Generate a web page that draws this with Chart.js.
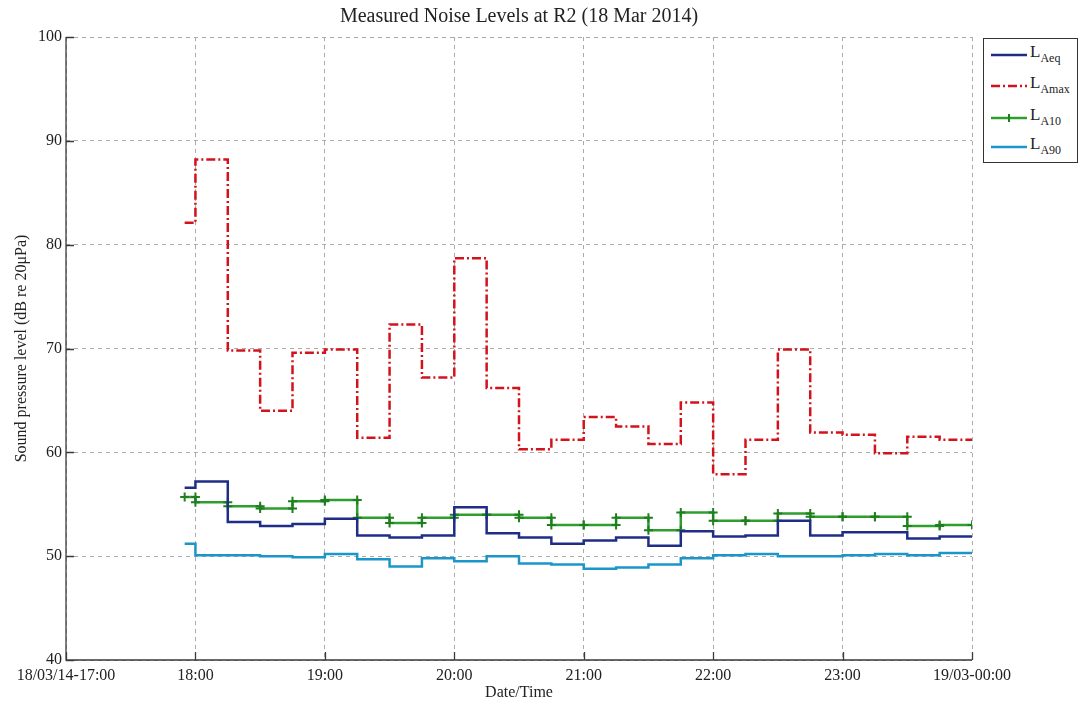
<!DOCTYPE html>
<html>
<head>
<meta charset="utf-8">
<script src="https://cdn.jsdelivr.net/npm/chart.js@4"></script>
<style>
  html, body { margin: 0; padding: 0; background: #fff; }
  #wrap { position: relative; width: 1083px; height: 706px; }
  #legend {
    position: absolute; left: 983px; top: 38px; width: 95px; height: 125px;
    border: 1px solid #333; background: #fff; box-sizing: border-box;
    font-family: "Liberation Serif", "Times New Roman", serif; color: #222;
  }
  #legend .row { position: absolute; left: 6px; height: 24px; display: flex; align-items: center; }
  #legend svg { width: 38px; height: 12px; margin-right: 2px; }
  #legend .txt { font-size: 17px; line-height: 17px; color: #222; }
  #legend sub { font-size: 12px; vertical-align: -5px; color: #222; }
</style>
</head>
<body>
<div id="wrap">
  <canvas id="myChart" width="1083" height="706"></canvas>
  <div id="legend"></div>
</div>
<script>
// sample times (start of each interval), last entry is end of record
const timeLabels = ['17:55', '18:00', '18:15', '18:30', '18:45', '19:00', '19:15', '19:30', '19:45',
    '20:00', '20:15', '20:30', '20:45', '21:00', '21:15', '21:30', '21:45', '22:00', '22:15',
    '22:30', '22:45', '23:00', '23:15', '23:30', '23:45', '00:00'];

const laeq = [56.6, 57.2, 53.3, 52.9, 53.1, 53.6, 52.0, 51.8, 52.0, 54.7, 52.2, 51.8, 51.2,
    51.5, 51.8, 51.0, 52.4, 51.9, 52.0, 53.4, 52.0, 52.3, 52.3, 51.7, 51.9];
const lamax = [82.1, 88.2, 69.8, 64.0, 69.6, 69.9, 61.4, 72.3, 67.2, 78.7, 66.2, 60.3, 61.2,
    63.4, 62.5, 60.8, 64.8, 57.9, 61.2, 69.9, 61.9, 61.7, 59.9, 61.5, 61.2];
const la10 = [55.7, 55.2, 54.8, 54.6, 55.3, 55.4, 53.7, 53.2, 53.7, 54.0, 54.0, 53.7, 53.0,
    53.0, 53.7, 52.5, 54.2, 53.4, 53.4, 54.1, 53.8, 53.8, 53.8, 52.9, 53.0];
const la90 = [51.2, 50.1, 50.1, 50.0, 49.9, 50.2, 49.7, 49.0, 49.8, 49.5, 50.0, 49.3, 49.2,
    48.8, 48.9, 49.2, 49.8, 50.1, 50.2, 50.0, 50.0, 50.1, 50.2, 50.1, 50.3];

const xTickLabels = ['18/03/14-17:00', '18:00', '19:00', '20:00', '21:00', '22:00', '23:00', '19/03-00:00'];
const yTicks = [40, 50, 60, 70, 80, 90, 100];

const serif = '"Liberation Serif", "Times New Roman", serif';

// minutes after 17:00
function toMin(s) {
    let h = parseInt(s.split(':')[0], 10);
    const m = parseInt(s.split(':')[1], 10);
    if (h < 17) h += 24;
    return (h - 17) * 60 + m;
}
const tmin = timeLabels.map(toMin);

// stairs vertices, like matlab stairs()
function stairs(vals) {
    const pts = [];
    vals.forEach(function (v, i) {
        pts.push({ x: tmin[i], y: v });
        pts.push({ x: tmin[i + 1], y: v });
    });
    return pts;
}

const series = [
    { name: 'Aeq', data: laeq, color: '#1f2d86', dash: [], marker: false },
    { name: 'Amax', data: lamax, color: '#d3131c', dash: [9, 3, 2, 3], marker: false },
    { name: 'A10', data: la10, color: '#2f9e2f', dash: [], marker: true },
    { name: 'A90', data: la90, color: '#1b96c9', dash: [], marker: false }
];

// solid left/bottom axes with inward ticks (box off look)
const axesLines = {
    id: 'axesLines',
    afterDatasetsDraw(chart) {
        const ctx = chart.ctx, a = chart.chartArea;
        const xs = chart.scales.x, ys = chart.scales.y;
        ctx.save();
        ctx.strokeStyle = '#3a3a3a';
        ctx.lineWidth = 1.3;
        ctx.setLineDash([]);
        ctx.beginPath();
        ctx.moveTo(a.left, a.top);
        ctx.lineTo(a.left, a.bottom);
        ctx.lineTo(a.right, a.bottom);
        xs.ticks.forEach(function (t) {
            const px = Math.round(xs.getPixelForValue(t.value)) + 0.5;
            ctx.moveTo(px, a.bottom);
            ctx.lineTo(px, a.bottom - 8);
        });
        ys.ticks.forEach(function (t) {
            const py = Math.round(ys.getPixelForValue(t.value)) + 0.5;
            ctx.moveTo(a.left, py);
            ctx.lineTo(a.left + 8, py);
        });
        ctx.stroke();
        ctx.restore();
    }
};

new Chart(document.getElementById('myChart'), {
    type: 'line',
    data: {
        datasets: series.map(function (s) {
            return {
                label: 'L' + s.name,
                data: stairs(s.data),
                borderColor: s.color,
                backgroundColor: s.color,
                borderWidth: 2.5,
                borderDash: s.dash,
                pointStyle: 'cross',
                pointRadius: s.marker ? 4.5 : 0,
                pointBorderColor: '#1f7f1f',
                pointBorderWidth: 2,
                tension: 0,
                fill: false
            };
        })
    },
    options: {
        responsive: false,
        animation: false,
        layout: { padding: { left: 0, right: 111, top: 0, bottom: 0 } },
        plugins: {
            legend: { display: false },
            tooltip: { enabled: false },
            title: {
                display: true,
                fullSize: false,
                text: 'Measured Noise Levels at R2 (18 Mar 2014)',
                color: '#222',
                font: { family: serif, size: 20, weight: 'normal' },
                padding: { top: 5, bottom: 8 }
            }
        },
        scales: {
            x: {
                type: 'linear',
                min: 0,
                max: 420,
                afterBuildTicks(scale) {
                    scale.ticks = xTickLabels.map(function (l, i) { return { value: i * 60 }; });
                },
                afterFit(scale) { scale.height = 46; },
                ticks: {
                    autoSkip: false,
                    maxRotation: 0,
                    padding: 6,
                    color: '#222',
                    font: { family: serif, size: 16 },
                    callback: function (v, i) { return xTickLabels[i]; }
                },
                grid: { color: '#ababab', lineWidth: 1, tickLength: 0, drawTicks: false },
                border: { display: false, dash: [4, 4] },
                title: {
                    display: true,
                    text: 'Date/Time',
                    color: '#222',
                    font: { family: serif, size: 16 },
                    padding: { top: 0, bottom: 4 }
                }
            },
            y: {
                min: 40,
                max: 100,
                afterBuildTicks(scale) {
                    scale.ticks = yTicks.map(function (v) { return { value: v }; });
                },
                afterFit(scale) { scale.width = 66; },
                ticks: {
                    padding: 4,
                    color: '#222',
                    font: { family: serif, size: 16 }
                },
                grid: { color: '#ababab', lineWidth: 1, tickLength: 0, drawTicks: false },
                border: { display: false, dash: [4, 4] },
                title: {
                    display: true,
                    text: 'Sound pressure level (dB re 20μPa)',
                    color: '#222',
                    font: { family: serif, size: 16 },
                    padding: { top: 12, bottom: 0 }
                }
            }
        }
    },
    plugins: [axesLines]
});

// html legend, so the subscripts stay real text
const legend = document.getElementById('legend');
const rowTops = [4, 35, 67, 96];
series.forEach(function (s, i) {
    const row = document.createElement('div');
    row.className = 'row';
    row.style.top = rowTops[i] + 'px';
    let svg = '<svg viewBox="0 0 38 12"><line x1="1" y1="6" x2="37" y2="6" stroke="' + s.color +
        '" stroke-width="2.5"' + (s.dash.length ? ' stroke-dasharray="' + s.dash.join(' ') + '"' : '') + '/>';
    if (s.marker) {
        svg += '<line x1="19" y1="2" x2="19" y2="10" stroke="#1f7f1f" stroke-width="2"/>';
    }
    svg += '</svg>';
    row.innerHTML = svg + '<span class="txt">L<sub>' + s.name + '</sub></span>';
    legend.appendChild(row);
});
</script>
</body>
</html>
